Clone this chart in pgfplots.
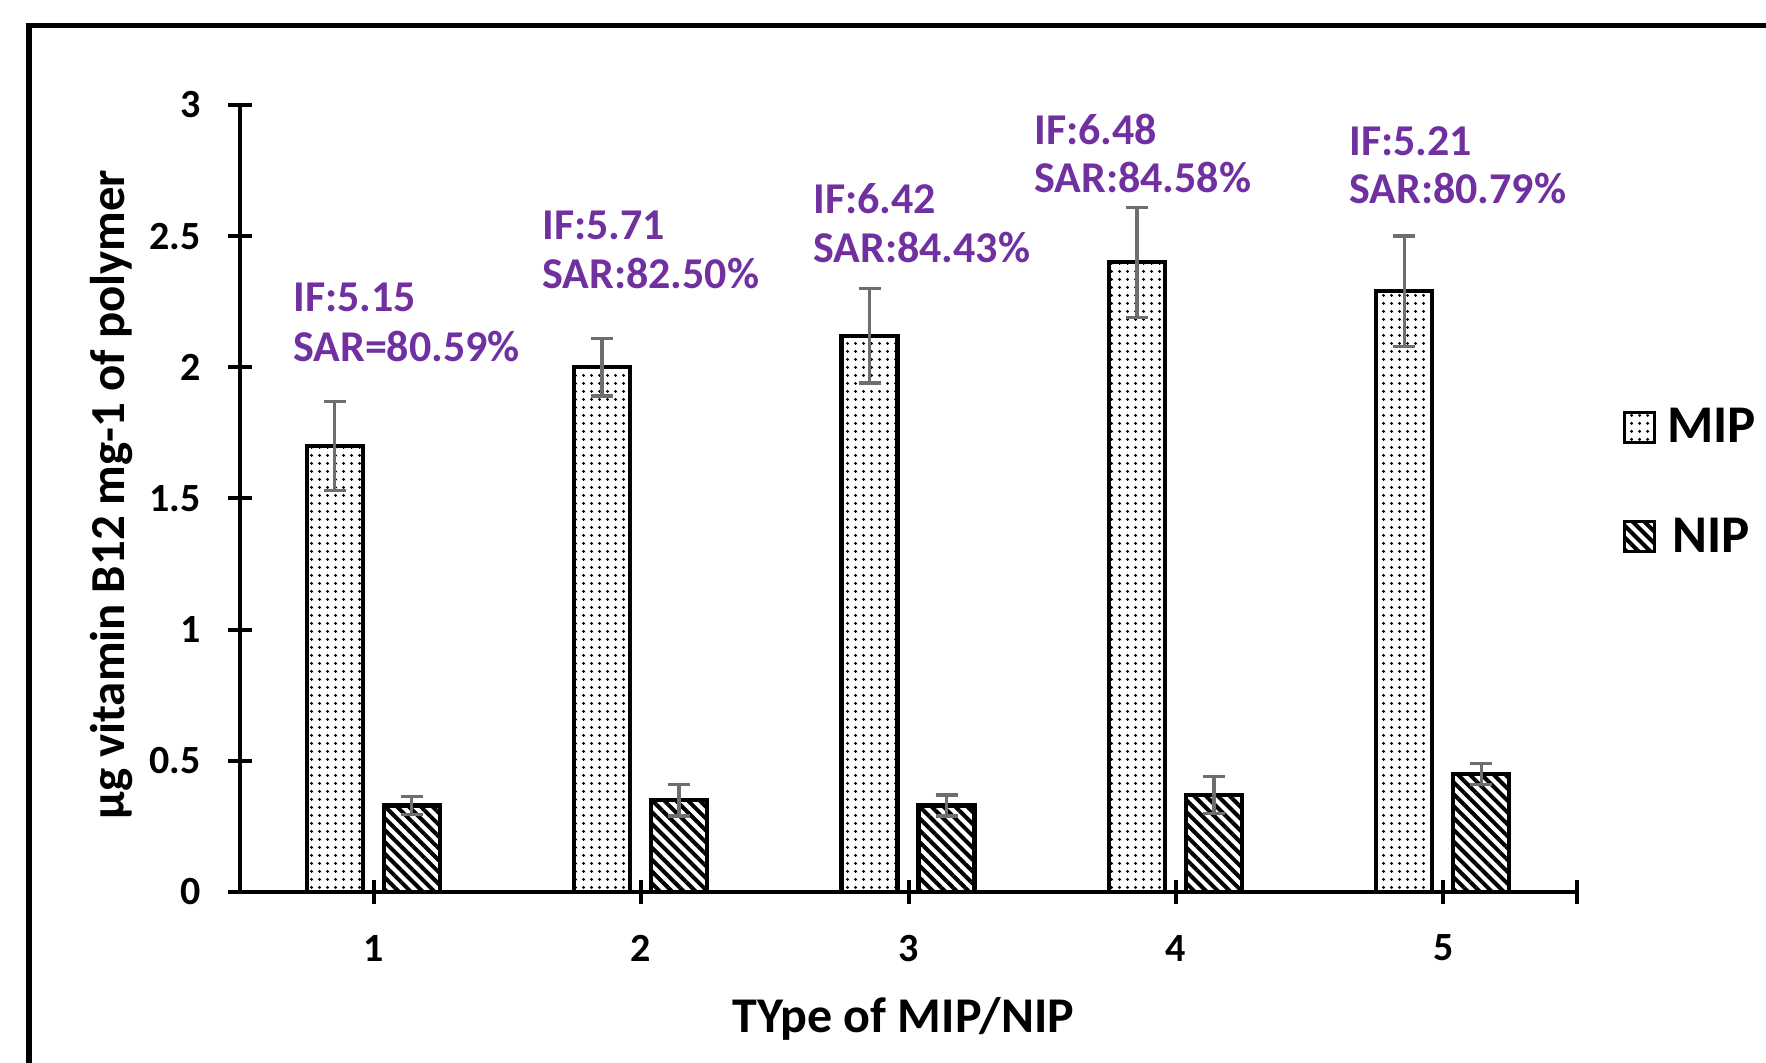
\documentclass[border=0pt]{standalone}
\usepackage{fontspec}
\setmainfont{Carlito}
\usepackage{pgfplots}
\pgfplotsset{compat=1.18}
\usetikzlibrary{patterns.meta}

\definecolor{annpurple}{HTML}{7030A0}
\definecolor{errgray}{HTML}{6E6E6E}

% bars sit 0.1458 axis units (19.5pt) either side of each category
\pgfplotsset{
  legbox/.style={legend image code/.code={
      \draw[##1, line width=1.6pt] (0pt,-7.5pt) rectangle (15pt,7.5pt);}},
  barstyle/.style={ybar, legbox, bar width=28pt, bar shift=0pt,
      draw=black, line width=2.1pt,
      error bars/y dir=both, error bars/y explicit,
      error bars/error bar style={line width=1.7pt, errgray},
      error bars/error mark options={rotate=90, mark size=5.5pt, line width=1.7pt, errgray}},
}
\tikzset{
  ann/.style={anchor=base west, inner sep=0pt, text=annpurple,
      font=\bfseries\fontsize{22}{26}\selectfont},
}

\begin{document}
\begin{tikzpicture}
\useasboundingbox (0,0) rectangle (883pt,531.5pt);
\clip (0,0) rectangle (883pt,531.5pt);
% outer frame (cut off at right and bottom, as in the figure)
\draw[line width=2.6pt] (14.5pt,-20pt) -- (14.5pt,518.75pt) -- (920pt,518.75pt);

\begin{axis}[
  at={(120pt,85.5pt)}, anchor=south west,
  scale only axis, width=668.5pt, height=393.5pt,
  xmin=0.5, xmax=5.5, ymin=0, ymax=3,
  axis x line=bottom, axis y line=left,
  axis line style={-, line width=2pt},
  xtick={1,2,3,4,5}, ytick={0,0.5,1,1.5,2,2.5,3},
  extra x ticks={5.5}, extra x tick labels={},
  tick align=center, major tick length=12pt,
  tick style={line width=2pt, black},
  /pgf/number format/assume math mode=true,
  ticklabel style={font=\bfseries\fontsize{20}{24}\selectfont},
  xticklabel style={yshift=-12pt},
  yticklabel style={xshift=-10pt},
  xlabel={TYpe of MIP/NIP},
  xlabel style={font=\bfseries\fontsize{25}{30}\selectfont,
    at={(axis description cs:0.496,-0.179)}, anchor=base},
  ylabel={µg vitamin B12 mg-1 of polymer},
  ylabel style={font=\bfseries\fontsize{24.4}{29}\selectfont,
    at={(axis description cs:-0.096,0.505)}, anchor=center},
  legend style={at={(axis description cs:1.034,0.62)}, anchor=north west,
    draw=none, fill=none, inner sep=0pt,
    font=\bfseries\fontsize{26.5}{31}\selectfont, row sep=32pt,
    /tikz/every odd column/.append style={column sep=3.5pt}},
  clip=false,
]

% MIP
\addplot[barstyle, pattern={Dots[distance=4pt, radius=0.9pt]}]
coordinates {
  (0.8542,1.70) +- (0,0.17)
  (1.8542,2.00) +- (0,0.11)
  (2.8542,2.12) +- (0,0.18)
  (3.8542,2.40) +- (0,0.21)
  (4.8542,2.29) +- (0,0.21)
};
\addlegendentry{MIP}

% NIP
\addplot[barstyle, pattern={Lines[angle=-45, distance=4.2pt, line width=2pt]}]
coordinates {
  (1.1421,0.33) +- (0,0.035)
  (2.1421,0.35) +- (0,0.06)
  (3.1421,0.33) +- (0,0.04)
  (4.1421,0.37) +- (0,0.07)
  (5.1421,0.45) +- (0,0.04)
};
\addlegendentry{NIP}

\node[ann] at (axis cs:0.698,2.211) {IF:5.15};
\node[ann] at (axis cs:0.698,2.024) {SAR=80.59\%};
\node[ann] at (axis cs:1.629,2.489) {IF:5.71};
\node[ann] at (axis cs:1.629,2.302) {SAR:82.50\%};
\node[ann] at (axis cs:2.643,2.585) {IF:6.42};
\node[ann] at (axis cs:2.643,2.398) {SAR:84.43\%};
\node[ann] at (axis cs:3.469,2.851) {IF:6.48};
\node[ann] at (axis cs:3.469,2.665) {SAR:84.58\%};
\node[ann] at (axis cs:4.647,2.809) {IF:5.21};
\node[ann] at (axis cs:4.647,2.623) {SAR:80.79\%};
\end{axis}
\end{tikzpicture}
\end{document}
